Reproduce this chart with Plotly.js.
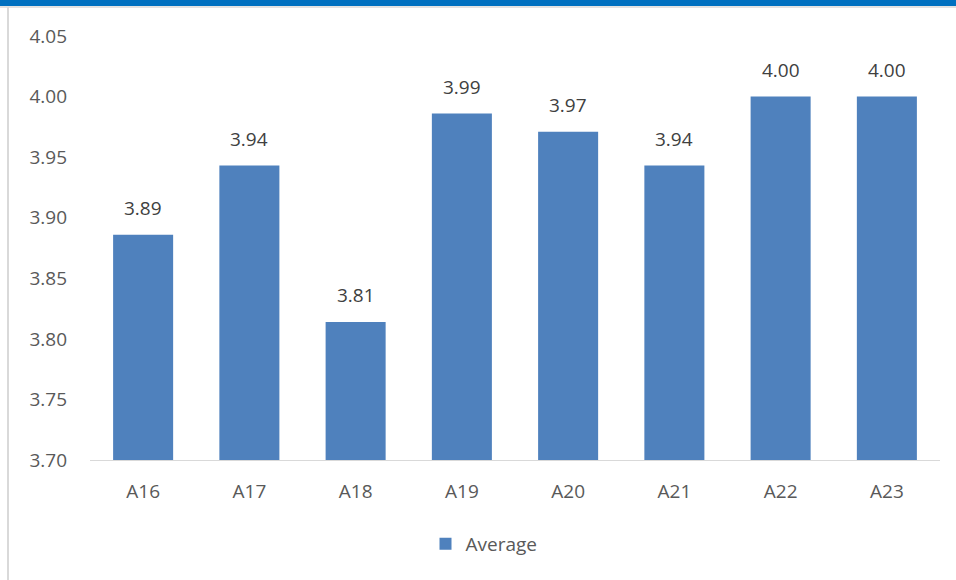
<!DOCTYPE html>
<html>
<head>
<meta charset="utf-8">
<script src="https://cdn.plot.ly/plotly-3.0.1.min.js"></script>
<style>
html,body{margin:0;padding:0;background:#fff;}
#chart{width:956px;height:580px;}
</style>
</head>
<body>
<div id="chart"></div>
<script>
const categories = ["A16","A17","A18","A19","A20","A21","A22","A23"];
const averages = [3.886, 3.943, 3.814, 3.986, 3.971, 3.943, 4.00, 4.00];
const labels = ["3.89","3.94","3.81","3.99","3.97","3.94","4.00","4.00"];
const seriesName = "Average";
const yTicks = [3.70,3.75,3.80,3.85,3.90,3.95,4.00,4.05];

const W = 956, H = 580, L = 90, R = 16, T = 36, B = 120;
const pw = W - L - R, ph = H - T - B;
const px = v => (v - L) / pw;
const py = v => (H - B - v) / ph;

const FONT = '"Open Sans", "Noto Sans", sans-serif';

const trace = {
  type: 'bar',
  x: categories,
  y: averages,
  name: seriesName,
  marker: {color: '#4F81BD'},
  hoverinfo: 'x+y'
};

const annotations = categories.map((c, i) => ({
  x: c, y: averages[i], xref: 'x', yref: 'y',
  text: labels[i], showarrow: false,
  yanchor: 'bottom', yshift: 12,
  font: {family: FONT, size: 19, color: '#404040'}
}));

const layout = {
  width: W, height: H,
  margin: {l: L, r: R, t: T, b: B},
  paper_bgcolor: '#ffffff',
  plot_bgcolor: '#ffffff',
  bargap: 0.435,
  showlegend: true,
  legend: {
    orientation: 'h', x: px(484), xanchor: 'center', y: py(544), yanchor: 'middle',
    itemwidth: 30,
    font: {family: FONT, size: 19, color: '#595959'}
  },
  xaxis: {
    type: 'category',
    showgrid: false, zeroline: false,
    showline: true, linecolor: '#d9d9d9', linewidth: 1,
    ticks: '', ticklabelstandoff: 14,
    tickfont: {family: FONT, size: 19, color: '#595959'}
  },
  yaxis: {
    range: [3.70, 4.05],
    tickvals: yTicks,
    ticktext: yTicks.map(v => v.toFixed(2)),
    showgrid: false, zeroline: false, showline: false,
    ticks: '', ticklabelstandoff: 22,
    tickfont: {family: FONT, size: 19, color: '#595959'}
  },
  annotations: annotations,
  shapes: [
    {type: 'rect', xref: 'paper', yref: 'paper', x0: px(0), x1: px(W), y0: py(6), y1: py(-2),
     fillcolor: '#0070C0', line: {width: 0}, layer: 'above'},
    {type: 'line', xref: 'paper', yref: 'paper', x0: px(0), x1: px(W), y0: py(7), y1: py(7),
     line: {color: '#d9d9d9', width: 1.5}},
    {type: 'line', xref: 'paper', yref: 'paper', x0: px(8), x1: px(8), y0: py(7), y1: py(582),
     line: {color: '#d9d9d9', width: 2}}
  ]
};

Plotly.newPlot('chart', [trace], layout, {displayModeBar: false, staticPlot: true});
</script>
</body>
</html>
